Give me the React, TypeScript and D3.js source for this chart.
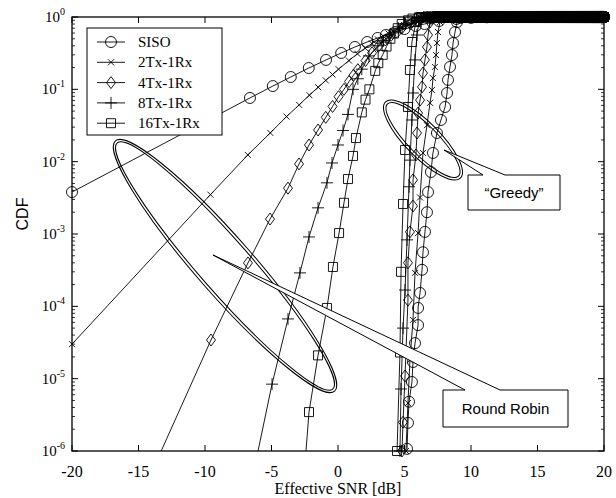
import React from 'react';
import * as d3 from 'd3';

const W = 616;
const H = 498;
const PL = 72, PR = 604, PT = 17, PB = 451;

// ---- Data: [Effective SNR (dB), CDF] (marker positions) ----
const rrSiso: number[][] = [[-20,0.0038],[-9.6,0.039],[-6.62,0.076],[-4.9,0.111],[-3.55,0.148],[-2.2,0.197],[-0.9,0.255],[0.24,0.318],[1.27,0.385],[2.19,0.451],[2.98,0.513],[3.6,0.564],[4.3,0.621],[5.0,0.682],[5.85,0.751],[6.5,0.80],[7.6,0.88],[8.9,0.94],[10.0,0.973],[11.2,0.99]];
const rr2Tx: number[][] = [[-20,3e-5],[-9.59,3.5e-3],[-6.78,0.0124],[-5.09,0.025],[-3.87,0.042],[-2.92,0.061],[-2.15,0.083],[-1.49,0.107],[-0.92,0.133],[-0.41,0.16],[0.04,0.19],[0.82,0.25],[1.46,0.31],[2.04,0.37],[2.55,0.43],[3.0,0.49],[3.41,0.54],[3.8,0.59],[4.15,0.64],[4.78,0.72],[5.33,0.78],[6.0,0.85],[7.0,0.92],[8.0,0.96],[9.0,0.985],[10.0,0.996]];
const rr4Tx: number[][] = [[-15,2e-7],[-9.55,3.42e-5],[-6.77,3.98e-4],[-5.11,1.61e-3],[-3.76,4.3e-3],[-2.93,9.3e-3],[-2.18,0.017],[-1.5,0.0274],[-0.92,0.041],[-0.41,0.058],[0.04,0.079],[0.45,0.10],[0.83,0.128],[1.17,0.157],[1.49,0.187],[2.07,0.25],[2.56,0.32],[3.03,0.393],[3.55,0.48],[4.0,0.56],[4.79,0.70],[5.45,0.80],[6.03,0.877],[7.0,0.956],[7.79,0.985],[9.03,0.998]];
const rr8Tx: number[][] = [[-6.7,2.5e-7],[-4.96,8.4e-6],[-3.76,6.7e-5],[-2.86,2.9e-4],[-2.18,9.1e-4],[-1.5,2.3e-3],[-0.83,5.1e-3],[-0.45,9.6e-3],[0.0,0.017],[0.38,0.027],[0.75,0.045],[1.13,0.10],[1.49,0.14],[1.79,0.19],[2.33,0.29],[2.99,0.40],[3.42,0.47],[3.85,0.55],[4.54,0.70],[5.08,0.80],[5.7,0.90],[6.3,0.96],[6.95,0.99],[7.8,0.999]];
const rr16Tx: number[][] = [[-2.7,2e-7],[-2.18,3.45e-6],[-1.5,2.1e-5],[-0.83,9.5e-5],[-0.38,3.5e-4],[0.08,1.03e-3],[0.45,2.7e-3],[0.75,5.75e-3],[1.13,0.012],[1.35,0.0212],[1.79,0.048],[2.07,0.072],[2.36,0.10],[2.8,0.18],[3.03,0.23],[3.36,0.30],[3.65,0.39],[3.94,0.50],[4.2,0.59],[4.49,0.70],[4.79,0.80],[5.27,0.90],[5.6,0.95],[6.1,0.99],[6.6,0.998]];

const grSiso: number[][] = [[5.19,1.07e-6],[5.26,2.45e-6],[5.34,4.8e-6],[5.56,9e-6],[5.64,1.7e-5],[5.79,3.1e-5],[6.02,5.5e-5],[6.02,9.5e-5],[6.17,1.53e-4],[6.32,3.2e-4],[6.39,5.6e-4],[6.54,1.07e-3],[6.69,2.0e-3],[6.77,3.8e-3],[6.99,7.2e-3],[7.14,0.0132],[7.44,0.0249],[7.74,0.0377],[8.05,0.057],[8.2,0.089],[8.27,0.135],[8.42,0.204],[8.57,0.298],[8.65,0.437],[8.8,0.62],[8.95,0.85],[9.2,0.97]];
const gr2Tx: number[][] = [[5.11,1e-6],[5.26,4.6e-6],[5.41,1.8e-5],[5.64,6.5e-5],[5.79,2.9e-4],[6.02,1.03e-3],[6.17,3.2e-3],[6.39,0.0132],[6.69,0.032],[6.92,0.065],[7.07,0.098],[7.14,0.143],[7.29,0.204],[7.37,0.298],[7.44,0.437],[7.52,0.62],[7.67,0.85],[7.9,0.97]];
const gr4Tx: number[][] = [[4.81,1e-6],[4.89,2.5e-6],[5.04,1.09e-5],[5.26,1.22e-4],[5.26,4e-4],[5.41,1.07e-3],[5.64,2.44e-3],[5.64,5.6e-3],[5.86,0.0124],[5.94,0.0249],[6.02,0.047],[6.17,0.071],[6.32,0.108],[6.39,0.168],[6.54,0.255],[6.69,0.385],[6.77,0.564],[6.92,0.853],[7.1,0.97]];
const gr8Tx: number[][] = [[4.66,1e-6],[4.74,7.2e-6],[4.89,5e-5],[5.04,1.68e-4],[5.19,8.3e-4],[5.34,4.5e-3],[5.41,0.0105],[5.56,0.0377],[5.64,0.089],[5.79,0.255],[5.94,0.564],[6.09,0.88],[6.3,0.97]];
const gr16Tx: number[][] = [[4.44,1e-6],[4.66,2.3e-5],[4.74,3e-4],[4.89,2.6e-3],[5.04,0.0145],[5.26,0.057],[5.41,0.185],[5.56,0.451],[5.86,0.853],[6.1,0.97]];

// linear SNR simulation grid (step 0.1); beyond each curve's last point the CDF is 1
const snrGridDb = d3.range(0.01, 100.001, 0.1).map((g) => 10 * Math.log10(g));

const seriesNames = ['SISO', '2Tx-1Rx', '4Tx-1Rx', '8Tx-1Rx', '16Tx-1Rx'];
const seriesMarkers = ['circle', 'x', 'diamond', 'plus', 'square'];
const rrData = [rrSiso, rr2Tx, rr4Tx, rr8Tx, rr16Tx];
const grData = [grSiso, gr2Tx, gr4Tx, gr8Tx, gr16Tx];

const xTicks = [-20, -15, -10, -5, 0, 5, 10, 15, 20];
const yExps = [0, -1, -2, -3, -4, -5, -6];

const SERIF = '"Liberation Serif", "Times New Roman", serif';
const SANS = '"Liberation Sans", Arial, sans-serif';

function markerPath(type: string, cx: number, cy: number): string {
  if (type === 'circle') {
    const r = 5.5;
    return `M${cx - r},${cy}a${r},${r} 0 1,0 ${2 * r},0a${r},${r} 0 1,0 ${-2 * r},0`;
  }
  if (type === 'square') return `M${cx - 4.5},${cy - 4.5}h9v9h-9Z`;
  if (type === 'diamond') return `M${cx},${cy - 6}L${cx + 4.5},${cy}L${cx},${cy + 6}L${cx - 4.5},${cy}Z`;
  if (type === 'plus') return `M${cx - 6},${cy}H${cx + 6}M${cx},${cy - 6}V${cy + 6}`;
  return `M${cx - 3},${cy - 3}L${cx + 3},${cy + 3}M${cx - 3},${cy + 3}L${cx + 3},${cy - 3}`;
}

function DoubleEllipse({ cx, cy, rx, ry, angle }: { cx: number; cy: number; rx: number; ry: number; angle: number }) {
  return (
    <g transform={`translate(${cx},${cy}) rotate(${angle})`} fill="none" stroke="#000" strokeWidth={1}>
      <ellipse rx={rx + 1.4} ry={ry + 1.4} />
      <ellipse rx={rx - 1.4} ry={ry - 1.4} />
    </g>
  );
}

export default function App() {
  const x = d3.scaleLinear().domain([-20, 20]).range([PL, PR]);
  const y = d3.scaleLog().domain([1e-6, 1]).range([PB, PT]);
  const line = d3.line<number[]>().x((d) => x(d[0])).y((d) => y(d[1]));

  const minorY: number[] = [];
  for (let e = -6; e < 0; e++) for (let m = 2; m <= 9; m++) minorY.push(m * Math.pow(10, e));

  const allSeries = [...rrData.map((d, i) => ({ d, i })), ...grData.map((d, i) => ({ d, i }))];

  const seriesMarkerPath = (d: number[][], type: string) => {
    const last = d[d.length - 1][0];
    const pts = d.filter((p) => y(p[1]) <= PB + 3).map((p) => markerPath(type, x(p[0]), y(p[1])));
    const tail = snrGridDb.filter((s) => s > last + 0.05 && s <= 20).map((s) => markerPath(type, x(s), y(1)));
    return pts.join('') + tail.join('');
  };

  return (
    <svg width={W} height={H} style={{ position: 'absolute', left: 0, top: 0, background: '#fff' }}>
      <defs>
        <clipPath id="plotClip">
          <rect x={PL} y={PT - 1} width={PR - PL} height={PB - PT + 1} />
        </clipPath>
      </defs>
      <rect x={0} y={0} width={W} height={H} fill="#fff" />

      {/* curves */}
      <g clipPath="url(#plotClip)" fill="none" stroke="#000" strokeWidth={0.9}>
        {allSeries.map(({ d }, k) => <path key={'ln' + k} d={line([...d, [20, 1]]) || ''} />)}
      </g>
      {/* markers */}
      <g fill="none" stroke="#000" strokeWidth={0.9}>
        {allSeries.map(({ d, i }, k) => <path key={'mk' + k} d={seriesMarkerPath(d, seriesMarkers[i])} />)}
      </g>

      {/* frame & ticks */}
      <g stroke="#000" fill="none">
        <rect x={PL} y={PT} width={PR - PL} height={PB - PT} strokeWidth={1.3} />
        {xTicks.map((t) => (
          <g key={'xt' + t} strokeWidth={1}>
            <line x1={x(t)} x2={x(t)} y1={PB} y2={PB - 6} />
            <line x1={x(t)} x2={x(t)} y1={PT} y2={PT + 6} />
          </g>
        ))}
        {yExps.map((e) => (
          <g key={'yt' + e} strokeWidth={1}>
            <line x1={PL} x2={PL + 6} y1={y(Math.pow(10, e))} y2={y(Math.pow(10, e))} />
            <line x1={PR} x2={PR - 6} y1={y(Math.pow(10, e))} y2={y(Math.pow(10, e))} />
          </g>
        ))}
        {minorY.map((v, i) => (
          <g key={'ym' + i} strokeWidth={0.8}>
            <line x1={PL} x2={PL + 3} y1={y(v)} y2={y(v)} />
            <line x1={PR} x2={PR - 3} y1={y(v)} y2={y(v)} />
          </g>
        ))}
      </g>

      {/* tick labels */}
      <g fontFamily={SERIF} fill="#000">
        {xTicks.map((t) => (
          <text key={'xl' + t} x={x(t)} y={PB + 26} textAnchor="middle" fontSize={16}>{t < 0 ? '-' + Math.abs(t) : t}</text>
        ))}
        {yExps.map((e) => (
          <text key={'yl' + e} x={PL - 7} y={y(Math.pow(10, e)) + 5} textAnchor="end" fontSize={15}>
            10<tspan fontSize={10} dy={-7}>{e}</tspan>
          </text>
        ))}
      </g>
      <text x={(PL + PR) / 2} y={494} textAnchor="middle" fontFamily={SERIF} fontSize={16}>Effective SNR [dB]</text>
      <text transform={`translate(28,${(PT + PB) / 2 - 20}) rotate(-90)`} textAnchor="middle" fontFamily={SANS} fontSize={16}>CDF</text>

      {/* legend */}
      <g>
        <rect x={87} y={28} width={135} height={107} fill="#fff" stroke="#000" strokeWidth={1} />
        {seriesNames.map((n, i) => {
          const ly = 42 + i * 20.3;
          return (
            <g key={'lg' + i}>
              <line x1={97} x2={125} y1={ly} y2={ly} stroke="#000" strokeWidth={0.9} />
              <path d={markerPath(seriesMarkers[i], 111, ly)} fill="none" stroke="#000" strokeWidth={0.9} />
              <text x={138} y={ly + 5} fontFamily={SERIF} fontSize={15}>{n}</text>
            </g>
          );
        })}
      </g>

      {/* annotations */}
      <DoubleEllipse cx={225} cy={266} rx={165} ry={27} angle={48.8} />
      <DoubleEllipse cx={423} cy={140} rx={52} ry={16} angle={45.5} />

      {/* Round Robin callout */}
      <path d="M465,390 L213,255 L500,390 H568 V427 H443 V390 H465" fill="#fff" stroke="#000" strokeWidth={1} />
      <text x={505.5} y={414} textAnchor="middle" fontFamily={SANS} fontSize={15}>Round Robin</text>

      {/* Greedy callout */}
      <path d="M483,175 L444,150 L505,175 H560 V210 H468 V175 H483" fill="#fff" stroke="#000" strokeWidth={1} />
      <text x={514} y={198} textAnchor="middle" fontFamily={SANS} fontSize={15}>“Greedy”</text>
    </svg>
  );
}
